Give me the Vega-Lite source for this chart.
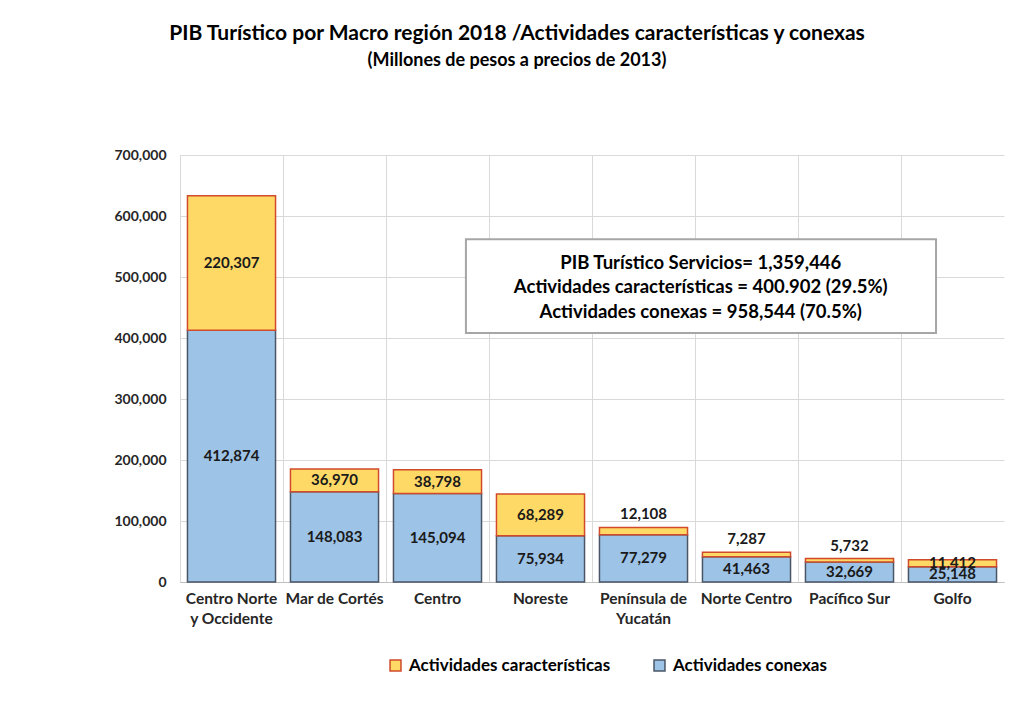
{
  "$schema": "https://vega.github.io/schema/vega-lite/v6.json",
  "autosize": {"type": "none"},
  "padding": {"left": 180, "top": 155, "right": 11, "bottom": 124},
  "width": 824,
  "height": 427,
  "background": "white",
  "config": {"font": "Lato", "view": {"stroke": null}},
  "title": {
    "text": "PIB Turístico por Macro región 2018 /Actividades características y conexas",
    "subtitle": "(Millones de pesos a precios de 2013)",
    "fontSize": 21,
    "fontWeight": "bold",
    "subtitleFontSize": 18,
    "subtitleFontWeight": "bold",
    "color": "#000000",
    "subtitleColor": "#000000",
    "anchor": "middle",
    "dx": -75,
    "offset": 78,
    "subtitlePadding": 8
  },
  "data": {
    "values": [
      {"region": "Centro Norte y Occidente", "serie": "Actividades conexas", "valor": 412874},
      {"region": "Mar de Cortés", "serie": "Actividades conexas", "valor": 148083},
      {"region": "Centro", "serie": "Actividades conexas", "valor": 145094},
      {"region": "Noreste", "serie": "Actividades conexas", "valor": 75934},
      {"region": "Península de Yucatán", "serie": "Actividades conexas", "valor": 77279},
      {"region": "Norte Centro", "serie": "Actividades conexas", "valor": 41463},
      {"region": "Pacífico Sur", "serie": "Actividades conexas", "valor": 32669},
      {"region": "Golfo", "serie": "Actividades conexas", "valor": 25148},
      {"region": "Centro Norte y Occidente", "serie": "Actividades características", "valor": 220307},
      {"region": "Mar de Cortés", "serie": "Actividades características", "valor": 36970},
      {"region": "Centro", "serie": "Actividades características", "valor": 38798},
      {"region": "Noreste", "serie": "Actividades características", "valor": 68289},
      {"region": "Península de Yucatán", "serie": "Actividades características", "valor": 12108},
      {"region": "Norte Centro", "serie": "Actividades características", "valor": 7287},
      {"region": "Pacífico Sur", "serie": "Actividades características", "valor": 5732},
      {"region": "Golfo", "serie": "Actividades características", "valor": 11412}
    ]
  },
  "layer": [
    {
      "transform": [
        {"stack": "valor", "groupby": ["region"], "sort": [{"field": "serie", "order": "descending"}], "as": ["v0", "v1"]},
        {"calculate": "(datum.v0 + datum.v1) / 2", "as": "vmid"}
      ],
      "encoding": {
        "x": {
          "field": "region",
          "type": "nominal",
          "sort": ["Centro Norte y Occidente", "Mar de Cortés", "Centro", "Noreste", "Península de Yucatán", "Norte Centro", "Pacífico Sur", "Golfo"],
          "scale": {"paddingInner": 0, "paddingOuter": 0},
          "axis": {
            "title": null,
            "bandPosition": 0,
            "grid": true,
            "gridColor": "#D9D9D9",
            "gridWidth": 1,
            "ticks": false,
            "domainColor": "#BFBFBF",
            "domainWidth": 1,
            "labelAngle": 0,
            "labelFontSize": 15.5,
            "labelFontWeight": "bold",
            "labelColor": "#262626",
            "labelPadding": 9,
            "labelLineHeight": 20,
            "labelBaseline": "top",
            "labelAlign": "center",
            "labelLimit": 300,
            "labelExpr": "datum.label == 'Centro Norte y Occidente' ? ['Centro Norte', 'y Occidente'] : datum.label == 'Península de Yucatán' ? ['Península de', 'Yucatán'] : datum.label"
          }
        }
      },
      "layer": [
        {
          "mark": {"type": "bar", "width": {"band": 0.855}, "strokeWidth": 1.5},
          "encoding": {
            "y": {
              "field": "v0",
              "type": "quantitative",
              "scale": {"domain": [0, 700000]},
              "axis": {
                "title": null,
                "values": [0, 100000, 200000, 300000, 400000, 500000, 600000, 700000],
                "format": ",d",
                "grid": true,
                "gridColor": "#D9D9D9",
                "domain": false,
                "ticks": false,
                "labelFontSize": 14,
                "labelFontWeight": "bold",
                "labelColor": "#262626",
                "labelPadding": 14
              }
            },
            "y2": {"field": "v1"},
            "color": {
              "field": "serie",
              "type": "nominal",
              "scale": {"domain": ["Actividades características", "Actividades conexas"], "range": ["#FFD966", "#9DC3E6"]},
              "legend": {
                "title": null,
                "orient": "none",
                "legendX": 207,
                "legendY": 502,
                "direction": "horizontal",
                "symbolType": "square",
                "symbolSize": 120,
                "symbolStrokeWidth": 1.5,
                "labelFontSize": 17,
                "labelFontWeight": "bold",
                "labelColor": "#000000",
                "labelLimit": 400,
                "labelOffset": 5,
                "columnPadding": 40
              }
            },
            "stroke": {
              "field": "serie",
              "type": "nominal",
              "scale": {"domain": ["Actividades características", "Actividades conexas"], "range": ["#D04A2B", "#4A5666"]},
              "legend": {
                "title": null,
                "orient": "none",
                "legendX": 207,
                "legendY": 502,
                "direction": "horizontal",
                "symbolType": "square",
                "symbolSize": 120,
                "symbolStrokeWidth": 1.5,
                "labelFontSize": 17,
                "labelFontWeight": "bold",
                "labelColor": "#000000",
                "labelLimit": 400,
                "labelOffset": 5,
                "columnPadding": 40
              }
            }
          }
        },
        {
          "transform": [
            {"filter": "!(datum.serie == 'Actividades características' && indexof(['Península de Yucatán', 'Norte Centro', 'Pacífico Sur'], datum.region) >= 0)"}
          ],
          "mark": {"type": "text", "fontSize": 15, "fontWeight": "bold", "color": "#1A1A1A", "baseline": "middle"},
          "encoding": {
            "y": {"field": "vmid", "type": "quantitative"},
            "text": {"field": "valor", "type": "quantitative", "format": ","}
          }
        },
        {
          "transform": [
            {"filter": "datum.serie == 'Actividades características' && indexof(['Península de Yucatán', 'Norte Centro', 'Pacífico Sur'], datum.region) >= 0"}
          ],
          "mark": {"type": "text", "fontSize": 15, "fontWeight": "bold", "color": "#1A1A1A", "baseline": "bottom", "dy": -5},
          "encoding": {
            "y": {"field": "v1", "type": "quantitative"},
            "text": {"field": "valor", "type": "quantitative", "format": ","}
          }
        }
      ]
    },
    {
      "data": {"values": [{}]},
      "layer": [
        {
          "mark": {"type": "rect", "fill": "white", "stroke": "#A6A6A6", "strokeWidth": 2},
          "encoding": {
            "x": {"datum": 0.347, "type": "quantitative", "scale": {"domain": [0, 1]}, "axis": null},
            "x2": {"datum": 0.9175},
            "y": {
              "datum": 408000,
              "type": "quantitative",
              "axis": {
                "title": null,
                "values": [0, 100000, 200000, 300000, 400000, 500000, 600000, 700000],
                "format": ",d",
                "grid": true,
                "gridColor": "#D9D9D9",
                "domain": false,
                "ticks": false,
                "labelFontSize": 14,
                "labelFontWeight": "bold",
                "labelColor": "#262626",
                "labelPadding": 14
              }
            },
            "y2": {"datum": 562000}
          }
        },
        {
          "mark": {"type": "text", "fontSize": 18.5, "fontWeight": "bold", "color": "#000000", "baseline": "middle", "align": "center", "lineHeight": 24.5},
          "encoding": {
            "x": {"datum": 0.632, "type": "quantitative", "scale": {"domain": [0, 1]}, "axis": null},
            "y": {
              "datum": 523000,
              "type": "quantitative",
              "axis": {
                "title": null,
                "values": [0, 100000, 200000, 300000, 400000, 500000, 600000, 700000],
                "format": ",d",
                "grid": true,
                "gridColor": "#D9D9D9",
                "domain": false,
                "ticks": false,
                "labelFontSize": 14,
                "labelFontWeight": "bold",
                "labelColor": "#262626",
                "labelPadding": 14
              }
            },
            "text": {"value": ["PIB Turístico  Servicios= 1,359,446", "Actividades características  = 400.902  (29.5%)", "Actividades conexas = 958,544  (70.5%)"]}
          }
        }
      ]
    }
  ],
  "resolve": {"scale": {"x": "independent"}}
}
